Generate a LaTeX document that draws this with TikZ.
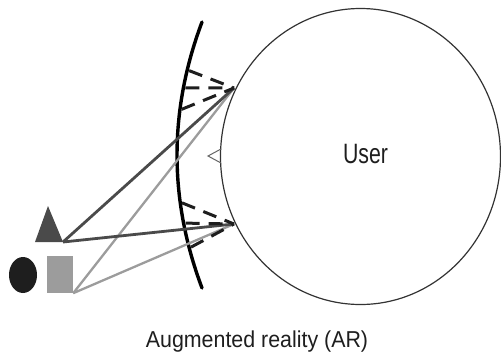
\documentclass[tikz,border=0pt]{standalone}
\usepackage{fontspec}
\newfontfamily\userfont[FakeStretch=0.76]{Liberation Sans}
\newfontfamily\capfont[FakeStretch=0.93]{Liberation Sans}
\usetikzlibrary{calc,positioning,shapes}
\definecolor{objdark}{HTML}{4A4A4A}
\definecolor{objgray}{HTML}{9C9C9C}
\definecolor{ink}{HTML}{1E1E1E}

\begin{document}
\begin{tikzpicture}[x=1pt,y=-1pt]
\tikzstyle{screen}=[line width=3.4pt, black, line cap=round]
\tikzstyle{ray}=[line width=3pt, ink, dash pattern=on 14pt off 9pt, shorten <=2pt]
\tikzstyle{darkline}=[line width=2.8pt, objdark]
\tikzstyle{grayline}=[line width=2.3pt, objgray]
\tikzstyle{person}=[ellipse, draw=black!80, line width=1.2pt, minimum width=280pt, minimum height=296pt, inner sep=0pt]
\useasboundingbox (0,0) rectangle (501,357);

\node[person] (user) at (360.5,156.5) {};
\node[anchor=base, text=ink, font=\userfont\fontsize{28}{30}\selectfont] (who) at (365.5,163) {User};
\node[anchor=base, text=ink, font=\capfont\fontsize{23}{26}\selectfont] (cap) at (257,347) {Augmented reality (AR)};

\draw[black!60, line width=1pt] (221,149) -- (208,156) -- (221,163);

\draw[screen] (202,22) .. controls (168.7,110.7) and (168.7,199.3) .. (202,288)
  coordinate[pos=0.18] (a1) coordinate[pos=0.248] (a2) coordinate[pos=0.331] (a3)
  coordinate[pos=0.677] (b1) coordinate[pos=0.756] (b2) coordinate[pos=0.85] (b3);

\coordinate (p1) at (234,88);
\coordinate (p2) at (234,224);

\node[ellipse, fill=ink, minimum width=28pt, minimum height=36pt, inner sep=0pt] (ball) at (23,275) {};
\node[rectangle, fill=objgray, minimum width=26pt, minimum height=37pt, inner sep=0pt] (box) at (60,274.5) {};
\coordinate (tri) at (63,242);
\fill[objdark] (48,206) -- (35,242) -- (tri) -- cycle;

\draw[grayline] (box.south east) -- (p1);
\draw[grayline] (box.south east) -- (p2);
\draw[darkline] (tri) -- (p1);
\draw[darkline] (tri) -- (p2);

\draw[ray] (a1) -- (p1);
\draw[ray] (a2) -- (p1);
\draw[ray] (a3) -- (p1);
\draw[ray] (b1) -- (p2);
\draw[ray] (b2) -- (p2);
\draw[ray] (b3) -- (p2);
\end{tikzpicture}
\end{document}
